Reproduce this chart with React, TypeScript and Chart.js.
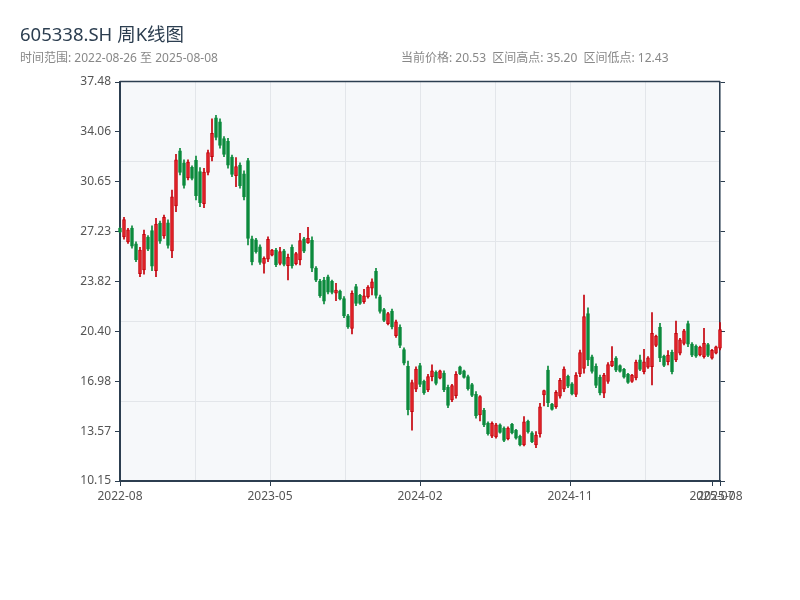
import React, { useEffect, useRef } from 'react';
import { Chart, registerables } from 'chart.js';

Chart.register(...registerables);

const weeks: string[] = [
  '2022-08-26', '2022-09-02', '2022-09-09', '2022-09-16', '2022-09-23', '2022-09-30', '2022-10-14', '2022-10-21', '2022-10-28', '2022-11-04',
  '2022-11-11', '2022-11-18', '2022-11-25', '2022-12-02', '2022-12-09', '2022-12-16', '2022-12-23', '2022-12-30',
  '2023-01-06', '2023-01-13', '2023-01-20', '2023-02-03', '2023-02-10', '2023-02-17', '2023-02-24', '2023-03-03', '2023-03-10', '2023-03-17',
  '2023-03-24', '2023-03-31', '2023-04-07', '2023-04-14', '2023-04-21', '2023-04-28', '2023-05-05', '2023-05-12', '2023-05-19', '2023-05-26',
  '2023-06-02', '2023-06-09', '2023-06-16', '2023-06-21', '2023-06-30', '2023-07-07', '2023-07-14', '2023-07-21', '2023-07-28', '2023-08-04',
  '2023-08-11', '2023-08-18', '2023-08-25', '2023-09-01', '2023-09-08', '2023-09-15', '2023-09-22', '2023-09-28', '2023-10-13', '2023-10-20',
  '2023-10-27', '2023-11-03', '2023-11-10', '2023-11-17', '2023-11-24', '2023-12-01', '2023-12-08', '2023-12-15', '2023-12-22', '2023-12-29',
  '2024-01-05', '2024-01-12', '2024-01-19', '2024-01-26', '2024-02-02', '2024-02-08', '2024-02-23', '2024-03-01', '2024-03-08', '2024-03-15',
  '2024-03-22', '2024-03-29', '2024-04-03', '2024-04-12', '2024-04-19', '2024-04-26', '2024-04-30', '2024-05-10', '2024-05-17', '2024-05-24',
  '2024-05-31', '2024-06-07', '2024-06-14', '2024-06-21', '2024-06-28', '2024-07-05', '2024-07-12', '2024-07-19', '2024-07-26', '2024-08-02',
  '2024-08-09', '2024-08-16', '2024-08-23', '2024-08-30', '2024-09-06', '2024-09-13', '2024-09-20', '2024-09-27', '2024-09-30', '2024-10-11',
  '2024-10-18', '2024-10-25', '2024-11-01', '2024-11-08', '2024-11-15', '2024-11-22', '2024-11-29', '2024-12-06', '2024-12-13', '2024-12-20',
  '2024-12-27', '2025-01-03', '2025-01-10', '2025-01-17', '2025-01-24', '2025-01-27', '2025-02-07', '2025-02-14', '2025-02-21', '2025-02-28',
  '2025-03-07', '2025-03-14', '2025-03-21', '2025-03-28', '2025-04-03', '2025-04-11', '2025-04-18', '2025-04-25', '2025-04-30', '2025-05-09',
  '2025-05-16', '2025-05-23', '2025-05-30', '2025-06-06', '2025-06-13', '2025-06-20', '2025-06-27', '2025-07-04', '2025-07-11', '2025-07-18',
  '2025-07-25', '2025-08-01', '2025-08-08',
];

const opens: number[] = [
  27.47, 26.86, 26.53, 27.47, 26.40, 24.35, 24.61, 26.86, 27.31, 24.55,
  27.81, 26.93, 27.84, 25.91, 28.99, 32.76, 31.95, 30.91, 31.63, 32.11,
  31.34, 29.14, 31.28, 32.36, 35.03, 34.75, 33.60, 33.42, 32.33, 31.06,
  31.78, 31.19, 32.10, 26.73, 26.67, 26.19, 25.06, 25.34, 25.61, 25.96,
  25.06, 25.91, 24.90, 26.16, 25.04, 25.29, 26.74, 26.45, 26.64, 24.73,
  23.85, 23.92, 24.13, 23.82, 23.01, 23.16, 22.64, 21.47, 20.61, 23.47,
  22.87, 22.43, 22.76, 23.35, 24.52, 22.77, 21.89, 20.93, 21.79, 20.11,
  20.68, 19.16, 18.00, 14.90, 16.44, 18.05, 16.97, 16.39, 17.30, 17.59,
  17.20, 17.55, 16.57, 15.70, 16.00, 17.97, 17.69, 17.31, 16.75, 16.09,
  14.67, 15.00, 14.12, 13.23, 13.18, 14.00, 13.77, 13.05, 14.03, 13.62,
  13.22, 12.62, 14.24, 13.45, 12.62, 13.38, 16.04, 17.75, 15.42, 15.25,
  15.96, 16.44, 17.32, 16.81, 16.09, 17.48, 17.87, 21.62, 18.66, 18.01,
  17.27, 16.16, 16.98, 18.03, 18.57, 18.05, 17.80, 17.46, 16.97, 17.21,
  18.45, 17.64, 17.95, 17.98, 19.43, 20.69, 18.70, 18.32, 18.96, 18.44,
  18.90, 19.58, 20.93, 19.53, 19.39, 18.79, 18.67, 19.49, 18.56, 18.90,
  19.25,
];

const highs: number[] = [
  27.50, 28.21, 27.46, 27.62, 26.54, 26.16, 27.34, 26.96, 27.62, 28.14,
  27.96, 28.37, 28.03, 30.08, 32.53, 32.94, 32.14, 32.14, 31.73, 32.41,
  31.61, 31.57, 32.82, 34.95, 35.20, 34.95, 33.74, 33.62, 32.48, 32.30,
  31.95, 31.39, 32.25, 26.93, 26.77, 26.32, 25.51, 26.88, 26.02, 26.09,
  26.16, 26.02, 25.70, 26.32, 25.82, 27.12, 26.84, 27.53, 26.88, 24.83,
  23.97, 24.10, 24.26, 23.92, 23.69, 23.23, 22.78, 21.57, 23.17, 23.62,
  22.94, 23.28, 23.53, 24.00, 24.72, 22.89, 21.98, 21.71, 21.93, 21.18,
  20.84, 19.28, 18.37, 17.07, 17.98, 18.21, 17.07, 17.46, 18.10, 17.69,
  17.75, 17.69, 16.73, 16.78, 17.64, 18.03, 17.75, 17.41, 16.84, 16.27,
  16.00, 15.13, 14.21, 14.21, 14.10, 14.06, 13.87, 13.87, 14.10, 13.69,
  13.30, 14.56, 14.33, 13.53, 13.53, 15.47, 16.38, 18.03, 15.47, 16.34,
  17.19, 17.98, 17.41, 16.89, 17.57, 19.12, 22.89, 22.02, 18.78, 18.17,
  17.41, 17.53, 18.26, 19.35, 18.67, 18.10, 17.87, 17.53, 17.46, 18.44,
  18.78, 19.17, 18.67, 21.68, 20.15, 20.95, 18.78, 19.08, 19.12, 21.11,
  19.93, 20.54, 21.11, 19.63, 19.47, 19.40, 20.61, 19.58, 19.17, 19.40,
  21.00,
];

const lows: number[] = [
  27.16, 26.71, 26.43, 26.09, 25.17, 24.15, 24.31, 25.93, 24.56, 24.15,
  26.43, 26.77, 26.09, 25.45, 28.60, 31.11, 30.20, 30.77, 30.77, 29.40,
  28.94, 28.87, 31.11, 32.07, 33.51, 32.94, 32.37, 31.57, 30.99, 30.31,
  30.20, 29.40, 26.32, 24.95, 25.75, 24.99, 24.38, 25.17, 25.56, 24.83,
  24.95, 24.88, 23.92, 24.72, 24.95, 24.95, 25.79, 26.43, 24.49, 23.80,
  22.73, 22.28, 22.96, 22.96, 22.50, 22.55, 21.34, 20.61, 20.22, 22.16,
  22.25, 22.32, 22.67, 22.89, 22.67, 21.64, 21.06, 20.84, 20.56, 19.99,
  19.28, 18.10, 14.67, 13.64, 16.27, 16.61, 16.09, 16.27, 17.01, 16.73,
  17.14, 16.27, 15.17, 15.58, 15.82, 17.43, 17.19, 16.38, 15.93, 14.45,
  14.26, 13.87, 13.30, 13.12, 13.08, 13.42, 12.84, 12.96, 13.37, 13.01,
  12.55, 12.55, 13.42, 12.78, 12.43, 13.15, 15.29, 15.24, 15.01, 15.13,
  15.82, 16.27, 16.55, 16.04, 15.93, 17.30, 17.53, 18.05, 17.53, 16.54,
  16.04, 15.86, 16.84, 17.98, 17.64, 17.60, 17.19, 16.84, 16.91, 17.07,
  17.71, 17.48, 17.87, 16.73, 19.35, 18.32, 17.98, 18.10, 17.48, 18.32,
  18.78, 19.47, 19.35, 18.67, 18.62, 18.72, 18.56, 18.67, 18.49, 18.85,
  19.13,
];

const closes: number[] = [
  27.19, 28.06, 27.36, 26.24, 25.31, 25.96, 27.04, 26.03, 24.87, 27.74,
  26.58, 28.21, 26.28, 29.62, 32.14, 31.29, 30.39, 32.00, 30.87, 29.70,
  29.21, 31.30, 32.65, 33.97, 33.68, 33.14, 32.51, 31.78, 31.14, 31.68,
  30.38, 29.60, 26.77, 25.15, 25.85, 25.12, 25.41, 26.71, 25.97, 24.96,
  25.86, 24.99, 25.47, 24.88, 25.73, 26.61, 25.89, 26.77, 24.73, 23.90,
  22.85, 22.46, 23.09, 23.06, 23.23, 22.62, 21.48, 20.71, 23.00, 22.31,
  22.32, 22.84, 23.44, 23.80, 22.87, 21.77, 21.15, 21.62, 20.70, 21.06,
  19.44, 18.22, 15.04, 16.90, 17.81, 16.77, 16.19, 17.30, 17.69, 16.83,
  17.69, 16.41, 15.33, 16.68, 17.46, 17.49, 17.25, 16.48, 16.02, 14.63,
  15.93, 14.00, 13.39, 14.10, 14.00, 13.48, 12.94, 13.78, 13.44, 13.08,
  12.62, 14.21, 13.51, 12.85, 13.30, 15.24, 16.34, 15.52, 15.06, 16.22,
  17.05, 17.81, 16.64, 16.12, 17.41, 18.94, 21.41, 18.45, 17.66, 16.70,
  16.18, 17.41, 18.12, 18.37, 17.74, 17.65, 17.26, 16.91, 17.40, 18.30,
  17.80, 18.32, 18.59, 20.27, 20.07, 18.58, 18.06, 18.78, 17.64, 20.27,
  19.82, 20.43, 19.53, 18.77, 18.70, 19.33, 19.58, 18.76, 19.10, 19.34,
  20.53,
];

const xTickLabels: string[] = ['2022-08', '2023-05', '2024-02', '2024-11', '2025-07', '2025-08'];

const TITLE = '605338.SH 周K线图';
const FONT = '"Noto Sans", "Noto Sans CJK SC", sans-serif';
const AXIS = '#2c3e50';
const GRID = '#e3e6ea';
const PLOT_BG = '#f6f8fa';
const TEXT = '#555';
const UP_LINE = '#c4000a';
const UP_FILL = '#e4262c';
const DOWN_LINE = '#0b8a3c';
const DOWN_FILL = '#0b8a3c';
const NONE = 'rgba(0,0,0,0)';

const lastIdx = weeks.length - 1;
const maxHigh = Math.max(...highs);
const minLow = Math.min(...lows);
const pad = (maxHigh - minLow) * 0.1;
const yMin = minLow - pad;
const yMax = maxHigh + pad;

const isUp = (i: number) => closes[i] >= opens[i];

const framePlugin = {
  id: 'frame',
  beforeDraw(chart: any) {
    const { ctx, chartArea } = chart;
    ctx.save();
    ctx.fillStyle = PLOT_BG;
    ctx.fillRect(chartArea.left, chartArea.top, chartArea.right - chartArea.left, chartArea.bottom - chartArea.top);
    ctx.restore();
  },
  afterDraw(chart: any) {
    const { ctx, chartArea } = chart;
    ctx.save();
    ctx.strokeStyle = AXIS;
    ctx.lineWidth = 1.5;
    ctx.beginPath();
    ctx.moveTo(chartArea.left, chartArea.top - 0.5);
    ctx.lineTo(chartArea.right, chartArea.top - 0.5);
    ctx.stroke();
    ctx.restore();
  },
};

export default function App() {
  const ref = useRef<HTMLCanvasElement>(null);

  useEffect(() => {
    const canvas = ref.current;
    if (!canvas) return;
    Chart.defaults.font.family = FONT;

    const bodies = weeks.map((_, i) => ({ x: i, y: [opens[i], closes[i]] }));
    const wicks = weeks.map((_, i) => ({ x: i, y: [lows[i], highs[i]] }));

    const chart = new Chart(canvas, {
      type: 'bar',
      data: {
        datasets: [
          {
            label: 'body',
            data: bodies as any,
            order: 0,
            grouped: false,
            barThickness: 3,
            borderWidth: 1,
            borderSkipped: false,
            clip: false,
            backgroundColor: (ctx: any) => (isUp(ctx.dataIndex) ? UP_FILL : DOWN_FILL),
            borderColor: (ctx: any) => (isUp(ctx.dataIndex) ? UP_LINE : DOWN_LINE),
          } as any,
          {
            label: 'wick',
            data: wicks as any,
            order: 1,
            grouped: false,
            barThickness: 1,
            borderWidth: 0,
            clip: false,
            backgroundColor: (ctx: any) => (isUp(ctx.dataIndex) ? UP_LINE : DOWN_LINE),
          } as any,
        ],
      },
      options: {
        animation: false,
        responsive: false,
        maintainAspectRatio: false,
        layout: { padding: { top: 82, left: 0, right: 0, bottom: 0 } },
        plugins: {
          legend: { display: false },
          tooltip: { enabled: false },
          title: { display: false },
        },
        scales: {
          x: {
            type: 'linear',
            min: 0,
            max: lastIdx,
            offset: false,
            afterBuildTicks: (scale: any) => {
              const ticks: any[] = [];
              for (let k = 0; k <= 8; k++) {
                ticks.push({ value: (lastIdx * k) / 8, grid: true, labeled: k % 2 === 0 });
              }
              ticks.push({ value: lastIdx - 2, grid: false, labeled: true });
              ticks.sort((a, b) => a.value - b.value);
              let n = 0;
              for (const t of ticks) if (t.labeled) t.text = xTickLabels[n++];
              scale.ticks = ticks;
            },
            afterFit: (scale: any) => {
              scale.height = 119;
            },
            ticks: {
              autoSkip: false,
              maxRotation: 0,
              minRotation: 0,
              padding: 3,
              color: TEXT,
              font: { size: 12, family: FONT },
              callback: (_v: any, i: number, ticks: any[]) => (ticks[i] && ticks[i].text) || '',
            },
            grid: {
              offset: false,
              drawTicks: true,
              tickLength: 5,
              color: (ctx: any) => (ctx.tick && ctx.tick.grid ? GRID : NONE),
              tickColor: (ctx: any) => (ctx.tick && ctx.tick.labeled ? AXIS : NONE),
            },
            border: { display: true, color: AXIS, width: 2 },
          } as any,
          y: {
            type: 'linear',
            position: 'left',
            min: yMin,
            max: yMax,
            afterBuildTicks: (scale: any) => {
              const ticks: any[] = [];
              for (let k = 0; k <= 8; k++) ticks.push({ value: yMin + ((yMax - yMin) * k) / 8, labeled: true, grid: false });
              for (let j = 1; j < 5; j++) ticks.push({ value: yMin + ((yMax - yMin) * j) / 5, labeled: false, grid: true });
              ticks.sort((a, b) => a.value - b.value);
              scale.ticks = ticks;
            },
            afterFit: (scale: any) => {
              scale.width = 120;
            },
            ticks: {
              autoSkip: false,
              padding: 4,
              color: TEXT,
              font: { size: 12, family: FONT },
              callback: (v: any, i: number, ticks: any[]) =>
                ticks[i] && ticks[i].labeled ? (Number(v) + 1e-9).toFixed(2) : '',
            },
            grid: {
              drawTicks: true,
              tickLength: 5,
              color: (ctx: any) => (ctx.tick && ctx.tick.grid ? GRID : NONE),
              tickColor: (ctx: any) => (ctx.tick && ctx.tick.labeled ? AXIS : NONE),
            },
            border: { display: true, color: AXIS, width: 2 },
          } as any,
          y2: {
            type: 'linear',
            position: 'right',
            min: yMin,
            max: yMax,
            afterBuildTicks: (scale: any) => {
              const ticks: any[] = [];
              for (let k = 0; k <= 8; k++) ticks.push({ value: yMin + ((yMax - yMin) * k) / 8 });
              scale.ticks = ticks;
            },
            afterFit: (scale: any) => {
              scale.width = 80;
            },
            ticks: { display: false, autoSkip: false },
            grid: { drawOnChartArea: false, drawTicks: true, tickLength: 5, tickColor: AXIS, color: AXIS },
            border: { display: true, color: AXIS, width: 1.5 },
          } as any,
        },
      },
      plugins: [framePlugin],
    } as any);

    return () => chart.destroy();
  }, []);

  const first = weeks[0];
  const last = weeks[lastIdx];
  const priceNow = closes[lastIdx].toFixed(2);

  return (
    <div style={{ position: 'absolute', left: 0, top: 0, width: 800, height: 600, background: '#fff', fontFamily: FONT }}>
      <canvas ref={ref} width={800} height={600} style={{ position: 'absolute', left: 0, top: 0, width: 800, height: 600 }} />
      <div style={{ position: 'absolute', left: 20, top: 22, fontSize: 18.5, lineHeight: '24px', color: AXIS, whiteSpace: 'nowrap' }}>
        {TITLE}
      </div>
      <div style={{ position: 'absolute', left: 20, top: 50, fontSize: 12, lineHeight: '16px', color: '#888', whiteSpace: 'nowrap' }}>
        {`时间范围: ${first} 至 ${last}`}
      </div>
      <div style={{ position: 'absolute', left: 401, top: 50, fontSize: 12, lineHeight: '16px', color: '#888', whiteSpace: 'pre' }}>
        {`当前价格: ${priceNow}  区间高点: ${maxHigh.toFixed(2)}  区间低点: ${minLow.toFixed(2)}`}
      </div>
    </div>
  );
}
